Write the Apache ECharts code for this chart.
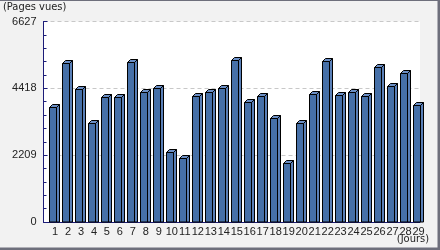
<!DOCTYPE html>
<html><head><meta charset="utf-8">
<script src="https://cdn.jsdelivr.net/npm/echarts@6/dist/echarts.min.js"></script>
<style>html,body{margin:0;padding:0;background:#f2f2f2}#c{width:440px;height:250px}</style>
</head><body><div id="c"></div>
<script>
var days = ['1','2','3','4','5','6','7','8','9','10','11','12','13','14','15','16','17','18','19','20','21','22','23','24','25','26','27','28','29'];
var pageViews = [3787,5240,4392,3279,4118,4118,5293,4283,4415,2321,2103,4170,4303,4415,5339,3972,4151,3424,1958,3279,4227,5326,4203,4283,4151,5128,4501,4910,3863];
var yTicks = [0,2209,4418,6627];
var yMax = 6627;

var chart = echarts.init(document.getElementById('c'), null, {renderer:'canvas'});
var navy = '#1c1c78';
var lblFont = 'Liberation Sans';
var condFont = '"DejaVu Sans Condensed","Liberation Sans Narrow",sans-serif';

function render3D(params, api){
  var idx = api.value(0), v = api.value(1);
  var p = api.coord([idx, v]);
  var b = api.coord([idx, 0]);
  var bw = api.size([1,0])[0];
  var fw = Math.round(bw*0.57);
  var d = Math.round(bw*0.23);
  var x0 = Math.round(p[0] - bw*0.44) + 0.5;
  var x1 = x0 + fw;
  var yt = Math.round(p[1]) + 0.5;
  var yb = b[1];
  var st = {stroke:'#000', lineWidth:1};
  return {type:'group', children:[
    {type:'polygon', shape:{points:[[x1,yt],[x1+d,yt-d],[x1+d,yb],[x1,yb]]}, style:Object.assign({fill:'#5a80b8'},st)},
    {type:'polygon', shape:{points:[[x0,yt],[x0+d,yt-d],[x1+d,yt-d],[x1,yt]]}, style:Object.assign({fill:'#6b8fc6'},st)},
    {type:'rect', shape:{x:x0, y:yt, width:fw, height:yb-yt}, style:Object.assign({fill:'#4670a8'},st)}
  ]};
}

chart.setOption({
  animation:false,
  backgroundColor:'#f2f2f2',
  graphic:[
    {type:'rect', shape:{x:0,y:0,width:440,height:1}, style:{fill:'#6e6f7c'}},
    {type:'rect', shape:{x:437.5,y:0,width:3,height:250}, style:{fill:'#6e6f7c'}},
    {type:'rect', shape:{x:0,y:247.5,width:440,height:3}, style:{fill:'#6e6f7c'}},
    {type:'text', left:3, top:2, style:{text:'(Pages vues)', font:'11px '+condFont, fill:'#222'}},
    {type:'text', right:11, top:234, style:{text:'(Jours)', font:'11px '+condFont, fill:'#222'}}
  ],
  grid:[
    {left:43.5, right:20, top:21.5, bottom:28, show:true, backgroundColor:'#ffffff', borderWidth:0},
    {left:48.5, right:15, top:21.5, bottom:28}
  ],
  xAxis:[
    {gridIndex:0, type:'category', data:[''], axisLine:{show:true, lineStyle:{color:navy, width:1}}, axisTick:{show:false}, axisLabel:{show:false}},
    {gridIndex:1, type:'category', data:days, axisLine:{show:false}, axisTick:{show:false},
     axisLabel:{interval:0, margin:4, fontFamily:lblFont, fontSize:11, color:'#222'}}
  ],
  yAxis:[
    {gridIndex:0, type:'value', min:yTicks[0], max:yMax, interval:yTicks[1]-yTicks[0],
     axisLine:{show:true, lineStyle:{color:navy, width:1}},
     axisTick:{show:true, inside:true, length:4, lineStyle:{color:navy}},
     minorTick:{show:true, splitNumber:5, length:3, lineStyle:{color:navy}},
     axisLabel:{margin:7, fontFamily:lblFont, fontSize:11, color:'#222', formatter:function(v){return String(v);}},
     splitLine:{show:true, lineStyle:{color:'#c8c8c8', type:[4,3], width:1}}},
    {gridIndex:1, type:'value', min:yTicks[0], max:yMax, show:false, splitLine:{show:false}}
  ],
  series:[{
    type:'custom', xAxisIndex:1, yAxisIndex:1,
    data: pageViews.map(function(v,i){return [i,v];}),
    renderItem: render3D,
    clip:false
  }]
});
</script></body></html>
